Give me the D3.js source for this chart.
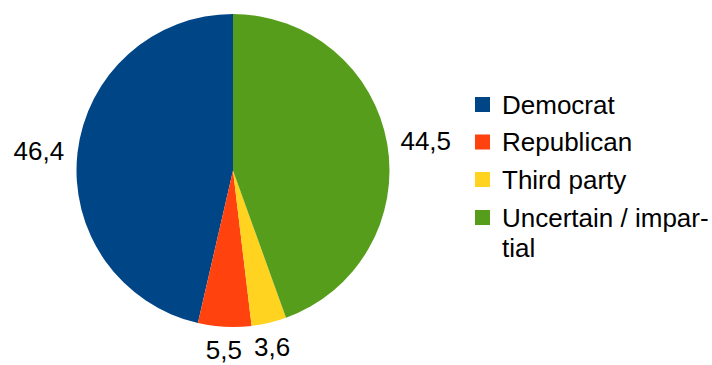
<!DOCTYPE html>
<html>
<head>
<meta charset="utf-8">
<script src="https://cdn.jsdelivr.net/npm/d3@7"></script>
<style>
  html, body { margin: 0; padding: 0; background: #ffffff; }
  svg { display: block; font-family: "Liberation Sans", Arial, sans-serif; }
</style>
</head>
<body>
<svg id="chart" width="712" height="365"></svg>
<script>
// Party affiliation shares (percent)
const categories = ["Democrat", "Republican", "Third party", "Uncertain / impartial"];
const legendLines = [["Democrat"], ["Republican"], ["Third party"], ["Uncertain / impar-", "tial"]];
const values = [46.4, 5.5, 3.6, 44.5];
const colors = ["#004586", "#ff420e", "#ffd320", "#579d1c"];

const svg = d3.select("#chart");
const cx = 233, cy = 170.5, radius = 156.5;
const fontSize = 26;

// Slices run counter-clockwise from 12 o'clock in list order
const pie = d3.pie().sort(null).value(d => d).startAngle(2 * Math.PI).endAngle(0);
const arcs = pie(values);
const arc = d3.arc().innerRadius(0).outerRadius(radius);

const g = svg.append("g").attr("transform", `translate(${cx},${cy})`);
g.selectAll("path.slice")
  .data(arcs)
  .join("path")
  .attr("class", "slice")
  .attr("d", arc)
  .attr("fill", (d, i) => colors[i]);

// Value labels outside the pie
const fmt = v => d3.format(".1f")(v).replace(".", ",");
const labelR = 170;
arcs.forEach((d, i) => {
  const mid = (d.startAngle + d.endAngle) / 2;
  const s = Math.sin(mid), c = Math.cos(mid);
  const x = labelR * s, y = -labelR * c;
  const anchor = s > 0.5 ? "start" : (s < -0.5 ? "end" : "middle");
  // keep the lowest label's descender inside the frame
  const base = Math.min(y + 9 + (c < 0 ? -c * 11.5 : 0), 365 - cy - 6.5);
  g.append("text")
    .attr("x", x)
    .attr("y", base)
    .attr("text-anchor", anchor)
    .attr("font-size", fontSize)
    .attr("fill", "#000")
    .text(fmt(values[i]));
});

// Legend
const legend = svg.append("g").attr("transform", "translate(475,0)");
const rowY = [113.5, 151, 188.5, 226.5];
categories.forEach((name, i) => {
  const row = legend.append("g");
  row.append("rect")
    .attr("x", 0)
    .attr("y", rowY[i] - 16.5)
    .attr("width", 15)
    .attr("height", 15)
    .attr("fill", colors[i]);
  const t = row.append("text")
    .attr("x", 27)
    .attr("y", rowY[i])
    .attr("font-size", fontSize)
    .attr("fill", "#000");
  legendLines[i].forEach((line, j) => {
    t.append("tspan")
      .attr("x", 27)
      .attr("dy", j === 0 ? 0 : 30.5)
      .text(line);
  });
});
</script>
</body>
</html>
